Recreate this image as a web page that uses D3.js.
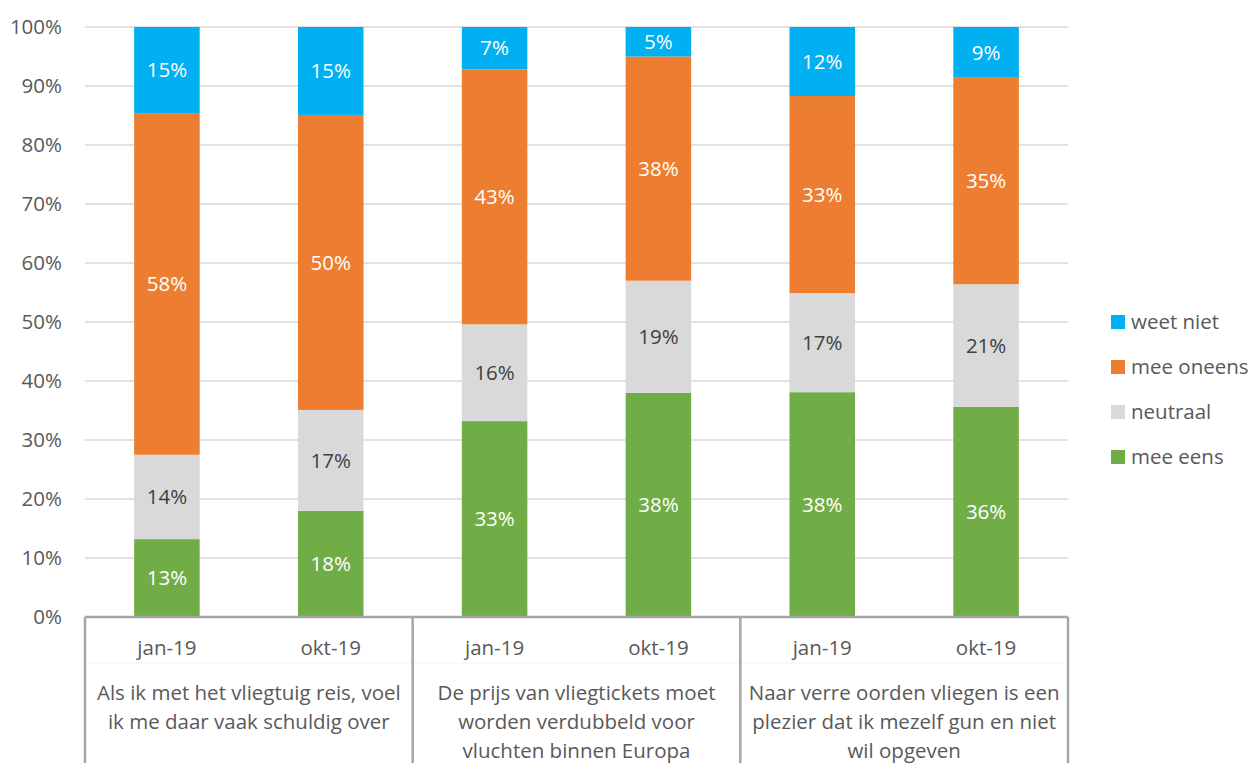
<!DOCTYPE html>
<html><head><meta charset="utf-8">
<script src="https://cdn.jsdelivr.net/npm/d3@7"></script>
<style>body{margin:0;background:#fff}svg{display:block}</style>
</head><body>
<script>
const periods = ["jan-19","okt-19","jan-19","okt-19","jan-19","okt-19"];
const groups = [
  ["Als ik met het vliegtuig reis, voel","ik me daar vaak schuldig over"],
  ["De prijs van vliegtickets moet","worden verdubbeld voor","vluchten binnen Europa"],
  ["Naar verre oorden vliegen is een","plezier dat ik mezelf gun en niet","wil opgeven"]
];
const seriesNames = ["mee eens","neutraal","mee oneens","weet niet"];
const meeEens   = [13.2, 18.0, 33.2, 38.0, 38.1, 35.6];
const neutraal  = [14.3, 17.1, 16.4, 19.0, 16.8, 20.8];
const meeOneens = [57.9, 50.0, 43.2, 38.0, 33.4, 35.0];
const weetNiet  = [14.6, 14.9,  7.2,  5.0, 11.7,  8.6];
const yTicks = [0,10,20,30,40,50,60,70,80,90,100];
const colors = ["#70AD47","#D9D9D9","#ED7D31","#00B0F0"];
const labelColors = ["#fff","#404040","#fff","#fff"];

(function(){
const W=1252,H=763;
const pL=85,pR=1068,pT=27,pB=617;
const font="'Open Sans', sans-serif";
const fs=20.5;
const svg=d3.select("body").append("svg").attr("width",W).attr("height",H);

const x=d3.scaleBand().domain(d3.range(periods.length)).range([pL,pR]).paddingInner(0.6).paddingOuter(0.3);
const y=d3.scaleLinear().domain([0,100]).range([pB,pT]);

svg.append("g").selectAll("line").data(yTicks).join("line")
  .attr("x1",pL).attr("x2",pR).attr("y1",d=>y(d)).attr("y2",d=>y(d))
  .attr("stroke","#D9D9D9").attr("stroke-width",1.3);

const yAxis=d3.axisLeft(y).tickValues(yTicks).tickFormat(d=>d+"%").tickSize(0).tickPadding(23);
const ga=svg.append("g").attr("transform",`translate(${pL},0)`).call(yAxis);
ga.select(".domain").remove();
ga.selectAll("text").attr("font-family",font).attr("font-size",fs).attr("fill","#595959");

const rows=periods.map((p,i)=>({i,"mee eens":meeEens[i],"neutraal":neutraal[i],"mee oneens":meeOneens[i],"weet niet":weetNiet[i]}));
const stack=d3.stack().keys(seriesNames)(rows);

stack.forEach((s,si)=>{
  const g=svg.append("g");
  g.selectAll("rect").data(s).join("rect")
    .attr("x",d=>x(d.data.i)).attr("width",x.bandwidth())
    .attr("y",d=>y(d[1])).attr("height",d=>y(d[0])-y(d[1]))
    .attr("fill",colors[si]);
  g.selectAll("text").data(s).join("text")
    .attr("x",d=>x(d.data.i)+x.bandwidth()/2)
    .attr("y",d=>(y(d[0])+y(d[1]))/2)
    .attr("dy","0.35em").attr("text-anchor","middle")
    .attr("font-family",font).attr("font-size",fs).attr("fill",labelColors[si])
    .text(d=>Math.round(d[1]-d[0])+"%");
});

const axg=svg.append("g");
axg.append("line").attr("x1",pL).attr("x2",pR).attr("y1",pB).attr("y2",pB)
  .attr("stroke","#A6A6A6").attr("stroke-width",2.5);
axg.append("line").attr("x1",pL).attr("x2",pR).attr("y1",663).attr("y2",663)
  .attr("stroke","#F4F4F4").attr("stroke-width",1);
const groupW=(pR-pL)/groups.length;
d3.range(groups.length+1).forEach(k=>{
  axg.append("line").attr("x1",pL+k*groupW).attr("x2",pL+k*groupW).attr("y1",pB).attr("y2",H)
    .attr("stroke","#A6A6A6").attr("stroke-width",2.5);
});
axg.selectAll("text.p").data(periods).join("text").attr("class","p")
  .attr("x",(d,i)=>x(i)+x.bandwidth()/2).attr("y",648).attr("dy","0.35em")
  .attr("text-anchor","middle").attr("font-family",font).attr("font-size",fs).attr("fill","#595959")
  .text(d=>d);
groups.forEach((lines,gi)=>{
  const cx=pL+gi*groupW+groupW/2;
  lines.forEach((t,li)=>{
    axg.append("text").attr("x",cx).attr("y",693+li*29).attr("dy","0.35em")
      .attr("text-anchor","middle").attr("font-family",font).attr("font-size",fs).attr("fill","#595959")
      .text(t);
  });
});

const legendOrder=["weet niet","mee oneens","neutraal","mee eens"];
const lg=svg.append("g");
legendOrder.forEach((n,k)=>{
  const cy=322+k*45;
  lg.append("rect").attr("x",1111).attr("y",cy-7).attr("width",14).attr("height",14)
    .attr("fill",colors[seriesNames.indexOf(n)]);
  lg.append("text").attr("x",1131).attr("y",cy).attr("dy","0.35em")
    .attr("font-family",font).attr("font-size",fs).attr("fill","#595959").text(n);
});
})();
</script>
</body></html>
